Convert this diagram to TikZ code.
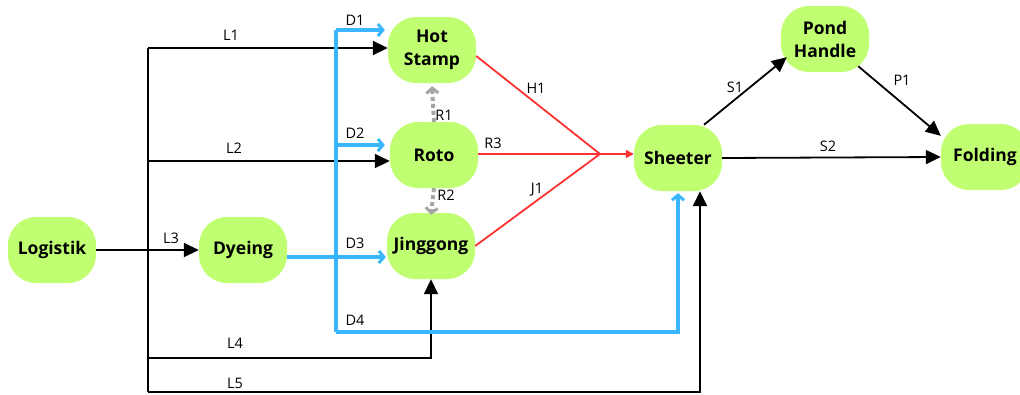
\documentclass[tikz,border=0pt]{standalone}
\usepackage{fontspec}
\setmainfont{Open Sans}
\usetikzlibrary{arrows.meta}
\definecolor{nodegreen}{HTML}{C1FF72}
\definecolor{flowblue}{HTML}{38B6FF}
\definecolor{flowred}{HTML}{FF3131}
\definecolor{flowgrey}{HTML}{A6A6A6}
\begin{document}
\begin{tikzpicture}[x=1pt,y=-1pt,
  proc/.style={fill=nodegreen, rounded corners=28pt, minimum width=88pt, minimum height=66pt,
    align=center, inner sep=0pt, font=\fontsize{17.5}{23}\selectfont\bfseries},
  lab/.style={font=\fontsize{14.5}{16}\selectfont, inner sep=0pt},
  blkline/.style={line width=1.8pt, line join=miter},
  blk/.style={blkline, -{Triangle[length=15pt,width=14pt]}},
  bluline/.style={line width=3.3pt, color=flowblue},
  blu/.style={bluline, -{Straight Barb[length=5pt,width=12pt,line width=3pt]}},
  redline/.style={line width=1.8pt, color=flowred},
  reda/.style={redline, -{Triangle[length=8pt,width=8pt]}},
  gry/.style={line width=4pt, color=flowgrey, dash pattern=on 4pt off 3pt,
    -{Straight Barb[length=5pt,width=12pt,line width=3pt]}}
]
\useasboundingbox (0,0) rectangle (1020,394);

% nodes
\node[proc] (log) at (52,250) {Logistik};
\node[proc] (dye) at (243,250) {Dyeing};
\node[proc] (hs) at (432,50) {Hot\\Stamp};
\node[proc] (roto) at (434,155) {Roto};
\node[proc] (jg) at (431,246) {Jinggong};
\node[proc] (sh) at (678,158) {Sheeter};
\node[proc] (ph) at (825,39) {Pond\\Handle};
\node[proc] (fo) at (985,157) {Folding};

% helper coordinates
\coordinate (ltop) at (148,48);
\coordinate (l2) at (148,161);
\coordinate (l4) at (148,358);
\coordinate (lbot) at (148,392);
\coordinate (btop) at (336,30);
\coordinate (d2) at (336,145);
\coordinate (d3) at (300,257);
\coordinate (bbot) at (336,332);
\coordinate (rj) at (600,154);

% black logistics lines
\draw[blkline] (ltop) -- (lbot);
\draw[blk] (ltop) -- (hs.west |- ltop);
\draw[blk] (l2) -- (roto.west |- l2);
\draw[blk] (log) -- (dye);
\draw[blk] (l4) -| (jg.south);
\draw[blk] (lbot) -| ([xshift=22pt]sh.south);

% blue dyeing lines
\draw[bluline] (btop) -- (bbot);
\draw[blu] (btop) -- ([xshift=-3pt]hs.west |- btop);
\draw[blu] (d2) -- ([xshift=-5pt]roto.west |- d2);
\draw[blu] (dye.east |- d3) -- ([xshift=-1pt]jg.west |- d3);
\draw[blu] (bbot) -| ([yshift=-2pt]sh.south);

% red lines
\draw[redline] ([yshift=-6pt]hs.east) -- (rj);
\draw[redline] (jg.east) -- (rj);
\draw[redline] (roto.east |- rj) -- (rj);
\draw[reda] (rj) -- (sh.west |- rj);

% grey dotted
\draw[gry] (roto.north) -- ([yshift=-3pt]hs.south);
\draw[gry] (roto.south) -- ([yshift=-2pt]jg.north);

% right side
\draw[blk] ([xshift=26pt]sh.north) -- ([xshift=6pt,yshift=15pt]ph.south west);
\draw[blk] ([xshift=-11pt,yshift=6pt]ph.south east) -- ([yshift=-12pt]fo.north west);
\draw[blk] (sh.east) -- (fo.west);

% labels
\node[lab] (tL1) at (231,35) {L1};
\node[lab] (tL2) at (234,148) {L2};
\node[lab] (tL3) at (171,238) {L3};
\node[lab] (tL4) at (235,343) {L4};
\node[lab] (tL5) at (235,383) {L5};
\node[lab] (tD1) at (355,20) {D1};
\node[lab] (tD2) at (355,133) {D2};
\node[lab] (tD3) at (355,243) {D3};
\node[lab] (tD4) at (355,320) {D4};
\node[lab] (tH1) at (536,88) {H1};
\node[lab] (tR3) at (493,143) {R3};
\node[lab] (tJ1) at (537,190) {J1};
\node[lab] (tR1) at (444,115) {R1};
\node[lab] (tR2) at (446,195) {R2};
\node[lab] (tS1) at (735,87) {S1};
\node[lab] (tP1) at (902,80) {P1};
\node[lab] (tS2) at (828,146) {S2};
\end{tikzpicture}
\end{document}
